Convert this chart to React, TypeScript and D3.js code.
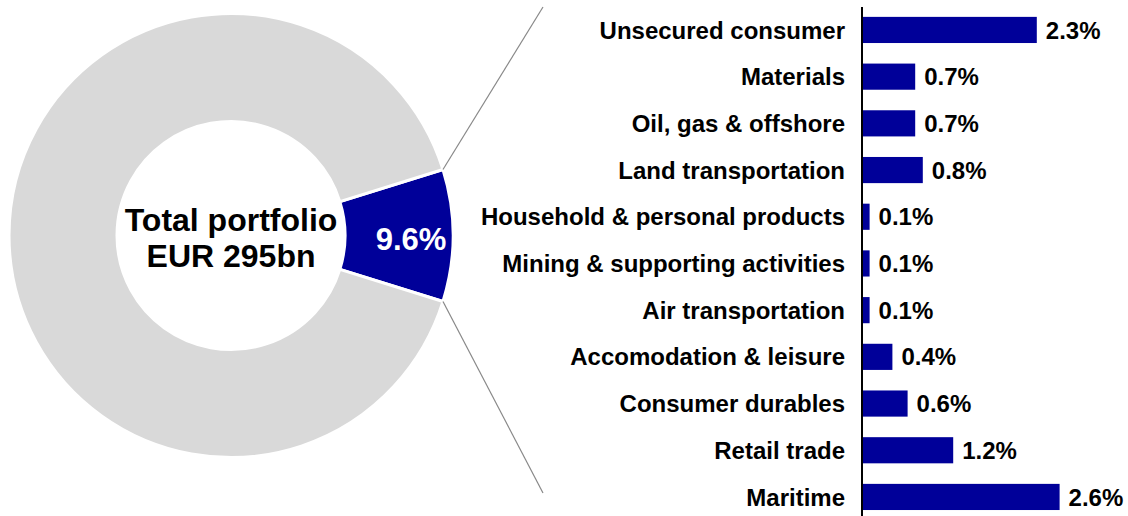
import React from "react";
import * as d3 from "d3";

const categories = [
  "Unsecured consumer",
  "Materials",
  "Oil, gas & offshore",
  "Land transportation",
  "Household & personal products",
  "Mining & supporting activities",
  "Air transportation",
  "Accomodation & leisure",
  "Consumer durables",
  "Retail trade",
  "Maritime",
];
const values = [2.3, 0.7, 0.7, 0.8, 0.1, 0.1, 0.1, 0.4, 0.6, 1.2, 2.6];

const donutLabels = ["Total portfolio", "EUR 295bn"];
const donutShares = [
  { name: "Selected", value: 9.6 },
  { name: "Other", value: 90.4 },
];

const W = 1128;
const H = 516;
const BLUE = "#000099";
const GREY = "#D9D9D9";
const FONT = "'Liberation Sans', Arial, sans-serif";

export default function App() {
  const cx = 231;
  const cy = 235.5;
  const rOuter = 222;
  const rInner = 114;

  const selAngle = (donutShares[0].value / 100) * 2 * Math.PI;
  const start = Math.PI / 2 - selAngle / 2;
  const pie = d3
    .pie<{ name: string; value: number }>()
    .value((d) => d.value)
    .sort(null)
    .startAngle(start)
    .endAngle(start + 2 * Math.PI);
  const arcs = pie(donutShares);
  const arc = d3
    .arc<d3.PieArcDatum<{ name: string; value: number }>>()
    .innerRadius(rInner)
    .outerRadius(rOuter);

  const sel = arcs[0];
  const pt = (a: number, r: number) => [cx + r * Math.sin(a), cy - r * Math.cos(a)];
  const [tx, ty] = pt(sel.startAngle, rOuter);
  const [bx, by] = pt(sel.endAngle, rOuter);
  const [lx, ly] = pt((sel.startAngle + sel.endAngle) / 2, 180);

  const axisX = 862;
  const x = d3.scaleLinear().domain([0, 3]).range([axisX, axisX + 228]);
  const y = d3
    .scaleBand<string>()
    .domain(categories)
    .range([6.6, 520.3])
    .paddingInner(0.44)
    .paddingOuter(0.22);

  return (
    <svg
      width={W}
      height={H}
      style={{ position: "absolute", left: 0, top: 0, background: "#fff" }}
      fontFamily={FONT}
    >
      <g transform={`translate(${cx},${cy})`}>
        {arcs.map((a, i) => (
          <path
            key={i}
            d={arc(a) || ""}
            fill={i === 0 ? BLUE : GREY}
            stroke="#fff"
            strokeWidth={3}
          />
        ))}
      </g>
      <line x1={tx} y1={ty} x2={543} y2={7} stroke="#888" strokeWidth={1.2} />
      <line x1={bx} y1={by} x2={543} y2={493} stroke="#888" strokeWidth={1.2} />
      <text
        x={cx}
        y={cy - 5}
        textAnchor="middle"
        fontSize={32}
        fontWeight="bold"
        fill="#000"
      >
        {donutLabels[0]}
      </text>
      <text
        x={cx}
        y={cy + 31}
        textAnchor="middle"
        fontSize={32}
        fontWeight="bold"
        fill="#000"
      >
        {donutLabels[1]}
      </text>
      <text
        x={lx}
        y={ly + 14}
        textAnchor="middle"
        fontSize={31}
        fontWeight="bold"
        fill="#fff"
      >
        {`${donutShares[0].value}%`}
      </text>

      {categories.map((c, i) => {
        const yy = y(c)!;
        const bw = y.bandwidth();
        return (
          <g key={c}>
            <rect
              x={x(0)}
              y={yy}
              width={x(values[i]) - x(0)}
              height={bw}
              fill={BLUE}
            />
            <text
              x={axisX - 17}
              y={yy + bw / 2}
              dy="0.36em"
              textAnchor="end"
              fontSize={24}
              fontWeight="bold"
              fill="#000"
            >
              {c}
            </text>
            <text
              x={x(values[i]) + 9}
              y={yy + bw / 2}
              dy="0.36em"
              textAnchor="start"
              fontSize={24}
              fontWeight="bold"
              fill="#000"
            >
              {`${values[i].toFixed(1)}%`}
            </text>
          </g>
        );
      })}
      <line x1={axisX} y1={7} x2={axisX} y2={H} stroke="#000" strokeWidth={2} />
    </svg>
  );
}
